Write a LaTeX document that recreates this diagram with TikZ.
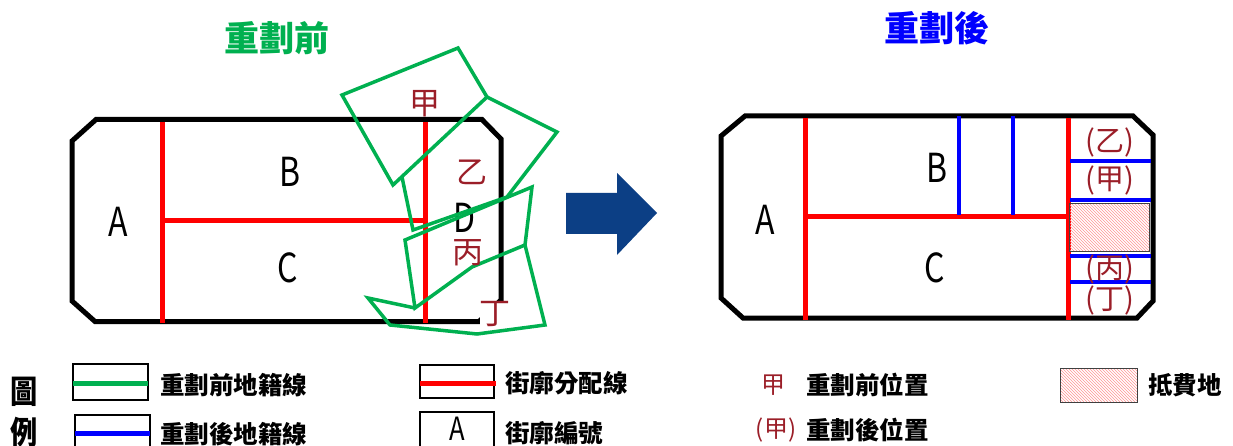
\documentclass[tikz,border=0pt]{standalone}
\usepackage{fontspec}
\usetikzlibrary{patterns}
\setmainfont{Noto Sans CJK TC}
\definecolor{grn}{RGB}{0,176,80}
\definecolor{blu}{RGB}{0,0,255}
\definecolor{rd}{RGB}{255,0,0}
\definecolor{lbl}{RGB}{155,30,40}
\definecolor{arr}{RGB}{12,63,133}
\definecolor{hatchc}{RGB}{255,150,150}
\newcommand\narrowtxt[1]{\scalebox{0.8}[1]{#1}}
\begin{document}
\begin{tikzpicture}[x=1pt,y=-1pt,
 blk/.style={line width=5pt, black, line join=miter},
 rline/.style={line width=5pt, rd},
 bline/.style={line width=4.5pt, blu},
 gline/.style={line width=3.5pt, grn, line join=miter},
 letter/.style={font=\fontsize{40}{40}\selectfont, inner sep=0pt},
 redlbl/.style={font=\fontsize{31}{31}\selectfont, text=lbl, inner sep=0pt},
 paren/.style={font=\fontsize{29}{29}\selectfont, text=lbl, inner sep=0pt},
 title/.style={font=\fontsize{35}{35}\selectfont\bfseries, inner sep=0pt},
 legtxt/.style={font=\fontsize{24.5}{24.5}\selectfont\bfseries, anchor=west, inner sep=0pt},
 legbox/.style={draw=black, line width=1.5pt},
 hatchbox/.style={pattern=north west lines, pattern color=hatchc, draw=black!75, line width=1pt}
]
\useasboundingbox (0,0) rectangle (1233,446);
\fill[white] (0,0) rectangle (1233,446);

% titles
\node[title, text=grn] (t1) at (277,38) {重劃前};
\node[title, text=blu] (t2) at (937,28) {重劃後};

% ---------- left block ----------
\draw[blk] (96,119.5) -- (482,119.5) -- (501,139) -- (501,300) -- (479,321.5) -- (95,321.5) -- (72,301) -- (72,141) -- cycle;
\draw[rline] (162,122) -- (162,323);
\draw[rline] (162,221) -- (425,221);
\draw[rline] (425,122) -- (425,323);

\node[letter] (lA) at (118,222) {\narrowtxt{A}};
\node[letter] (lB) at (290,172) {\narrowtxt{B}};
\node[letter] (lC) at (288,268) {\narrowtxt{C}};
\node[letter] (lD) at (465,218) {\narrowtxt{D}};

% green (before) parcels
\draw[gline] (342,95) -- (458,48) -- (487,97) -- (393,185) -- cycle;
\draw[gline] (402,177) -- (413,230) -- (507,197) -- (557,132) -- (487,97);
\draw[gline] (405,240) -- (532,187) -- (525,245) -- (472,267) -- (415,308) -- cycle;
\draw[gline] (415,308) -- (368,298) -- (390,325) -- (477,334) -- (545,325) -- (525,245);

\node[redlbl] (k1) at (425,104) {甲};
\node[redlbl] (k2) at (472,172) {乙};
\node[redlbl] (k3) at (468,253) {丙};
\node[redlbl, fill=white] (k4) at (495,314) {丁};

% arrow
\fill[arr] (566,193) -- (617,193) -- (617,173) -- (657,213) -- (617,255) -- (617,234) -- (566,234) -- cycle;

% ---------- right block ----------
\draw[blk] (745,116) -- (1133,116) -- (1153,135) -- (1153,301) -- (1137,318) -- (743,318) -- (721,298) -- (721,136) -- cycle;
\draw[rline] (805,118) -- (805,320);
\draw[rline] (805,217) -- (1068,217);
\draw[rline] (1068,118) -- (1068,320);
\draw[bline] (959,116) -- (959,215);
\draw[bline] (1013,116) -- (1013,215);
\draw[hatchbox] (1069,204) rectangle (1149,252);
\draw[bline] (1070,161) -- (1151,161);
\draw[bline] (1070,200) -- (1151,200);
\draw[bline] (1070,256) -- (1151,256);
\draw[bline] (1070,282) -- (1151,282);

\node[letter] (rA) at (765,220) {\narrowtxt{A}};
\node[letter] (rB) at (937,168) {\narrowtxt{B}};
\node[letter] (rC) at (935,268) {\narrowtxt{C}};

\node[paren] (p1) at (1110,142) {(乙)};
\node[paren] (p2) at (1110,180) {(甲)};
\node[paren] (p3) at (1110,269) {(丙)};
\node[paren] (p4) at (1110,300) {(丁)};

% ---------- legend ----------
\node[font=\fontsize{32}{32}\selectfont\bfseries, inner sep=0pt] (g1) at (24,392) {\scalebox{0.85}[1]{圖}};
\node[font=\fontsize{32}{32}\selectfont\bfseries, inner sep=0pt] (g2) at (24,432) {\scalebox{0.85}[1]{例}};

\draw[legbox] (73,364) rectangle (148,400);
\draw[line width=5pt, grn] (73,383) -- (148,383);
\node[legtxt] (L1) at (160,385) {重劃前地籍線};

\draw[legbox] (75,415) rectangle (150,452);
\draw[line width=5pt, blu] (75,433) -- (150,433);
\node[legtxt] (L2) at (160,434) {重劃後地籍線};

\draw[legbox] (420,365) rectangle (494,398);
\draw[line width=5pt, rd] (420,383) -- (496,383);
\node[legtxt] (L3) at (505,383) {街廓分配線};

\draw[legbox] (420,412) rectangle (494,452);
\node[font=\fontsize{32}{32}\selectfont, inner sep=0pt] (LA) at (457,429) {\narrowtxt{A}};
\node[legtxt] (L4) at (505,433) {街廓編號};

\node[font=\fontsize{24}{24}\selectfont, text=lbl, inner sep=0pt] (m1) at (773,385) {甲};
\node[legtxt] (L5) at (806,385) {重劃前位置};
\node[font=\fontsize{24}{24}\selectfont, text=lbl, inner sep=0pt] (m2) at (776,430) {(甲)};
\node[legtxt] (L6) at (806,430) {重劃後位置};

\draw[hatchbox] (1060,368) rectangle (1137,402);
\node[legtxt] (L7) at (1148,385) {抵費地};
\end{tikzpicture}
\end{document}
